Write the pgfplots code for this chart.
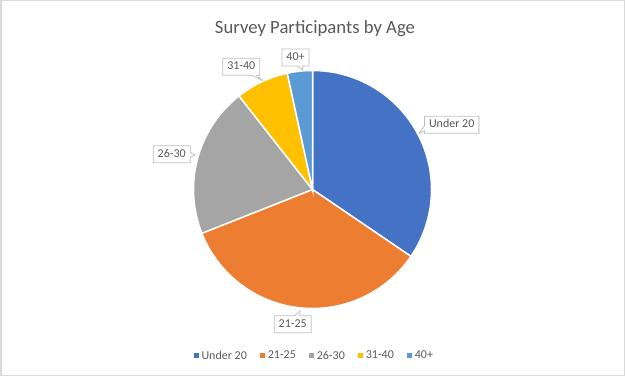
\documentclass[border=0pt]{standalone}
\usepackage{fontspec}
\setmainfont{Carlito}
\usepackage{pgfplots}
\usepackage{pgfplotstable}
\pgfplotsset{compat=1.18}
\usetikzlibrary{shapes.callouts}
\definecolor{slice0}{HTML}{4472C4}
\definecolor{slice1}{HTML}{ED7D31}
\definecolor{slice2}{HTML}{A5A5A5}
\definecolor{slice3}{HTML}{FFC000}
\definecolor{slice4}{HTML}{5B9BD5}
\definecolor{txt}{HTML}{595959}
\definecolor{lblbox}{HTML}{BFBFBF}
\definecolor{frame}{HTML}{D9D9D9}
\tikzset{lbl/.style={rectangle callout, draw=lblbox, line width=0.8bp, fill=white, text=txt,
    font=\fontsize{12bp}{14bp}\selectfont, inner xsep=4.5bp, inner ysep=3bp,
    text height=8.5bp, text depth=2.5bp, callout pointer width=5bp}}

\pgfplotstableread{
group value
U20 34.5
A2125 34.5
A2630 20.4
A3140 7.2
A40 3.4
}\agedata

\begin{document}
\begin{tikzpicture}
\gdef\acc{90}
\foreach \i in {0,...,4}{%
  \pgfplotstablegetelem{\i}{value}\of\agedata
  \pgfmathsetmacro\tmp{\acc-3.6*\pgfplotsretval}%
  \expandafter\xdef\csname sa\i\endcsname{\acc}%
  \expandafter\xdef\csname ea\i\endcsname{\tmp}%
  \xdef\acc{\tmp}%
}
\begin{axis}[
  width=625bp, height=376bp, scale only axis, hide axis,
  xmin=0, xmax=625, ymin=0, ymax=376, clip=false,
  legend style={at={(0.5024,0.054)}, anchor=center, draw=none, fill=none,
    legend columns=5, font=\fontsize{12bp}{14bp}\selectfont, text=txt,
    /tikz/every even column/.append style={column sep=11.5bp},
    nodes={inner sep=1.5bp}},
  legend cell align=left,
  legend image code/.code={\fill[#1] (0bp,-2.6bp) rectangle (5.2bp,2.6bp); \path (6.5bp,0bp);},
]
\pgfplotsinvokeforeach{0,...,4}{%
  \filldraw[fill=slice#1, draw=white, line width=1.5bp]
    (axis cs:312.5,186.5) -- ++(\csname sa#1\endcsname:119bp)
    arc[start angle=\csname sa#1\endcsname, end angle=\csname ea#1\endcsname, radius=119bp] -- cycle;
}
\addlegendimage{fill=slice0, draw=none}\addlegendentry{Under 20}
\addlegendimage{fill=slice1, draw=none}\addlegendentry{21-25}
\addlegendimage{fill=slice2, draw=none}\addlegendentry{26-30}
\addlegendimage{fill=slice3, draw=none}\addlegendentry{31-40}
\addlegendimage{fill=slice4, draw=none}\addlegendentry{40+}

\node[lbl, callout absolute pointer={(axis cs:419.3,242.7)}] at (axis cs:451.7,251.3) {Under 20};
\node[lbl, callout absolute pointer={(axis cs:300,65.3)}] at (axis cs:292.7,51.8) {21-25};
\node[lbl, callout absolute pointer={(axis cs:195,221)}] at (axis cs:171.7,221.8) {26-30};
\node[lbl, callout absolute pointer={(axis cs:261.7,296)}] at (axis cs:241.3,309.3) {31-40};
\node[lbl, callout absolute pointer={(axis cs:302.7,306)}] at (axis cs:295.5,318.5) {40+};

\node[anchor=base, text=txt, font=\fontsize{18.7bp}{22bp}\selectfont, inner sep=0pt] at (axis cs:315,342) {Survey Participants by Age};
\draw[frame, line width=1.5bp] (axis cs:0.75,0.75) rectangle (axis cs:624.25,375.25);
\end{axis}
\pgfresetboundingbox
\path[use as bounding box] (current axis.south west) rectangle (current axis.north east);
\end{tikzpicture}
\end{document}
